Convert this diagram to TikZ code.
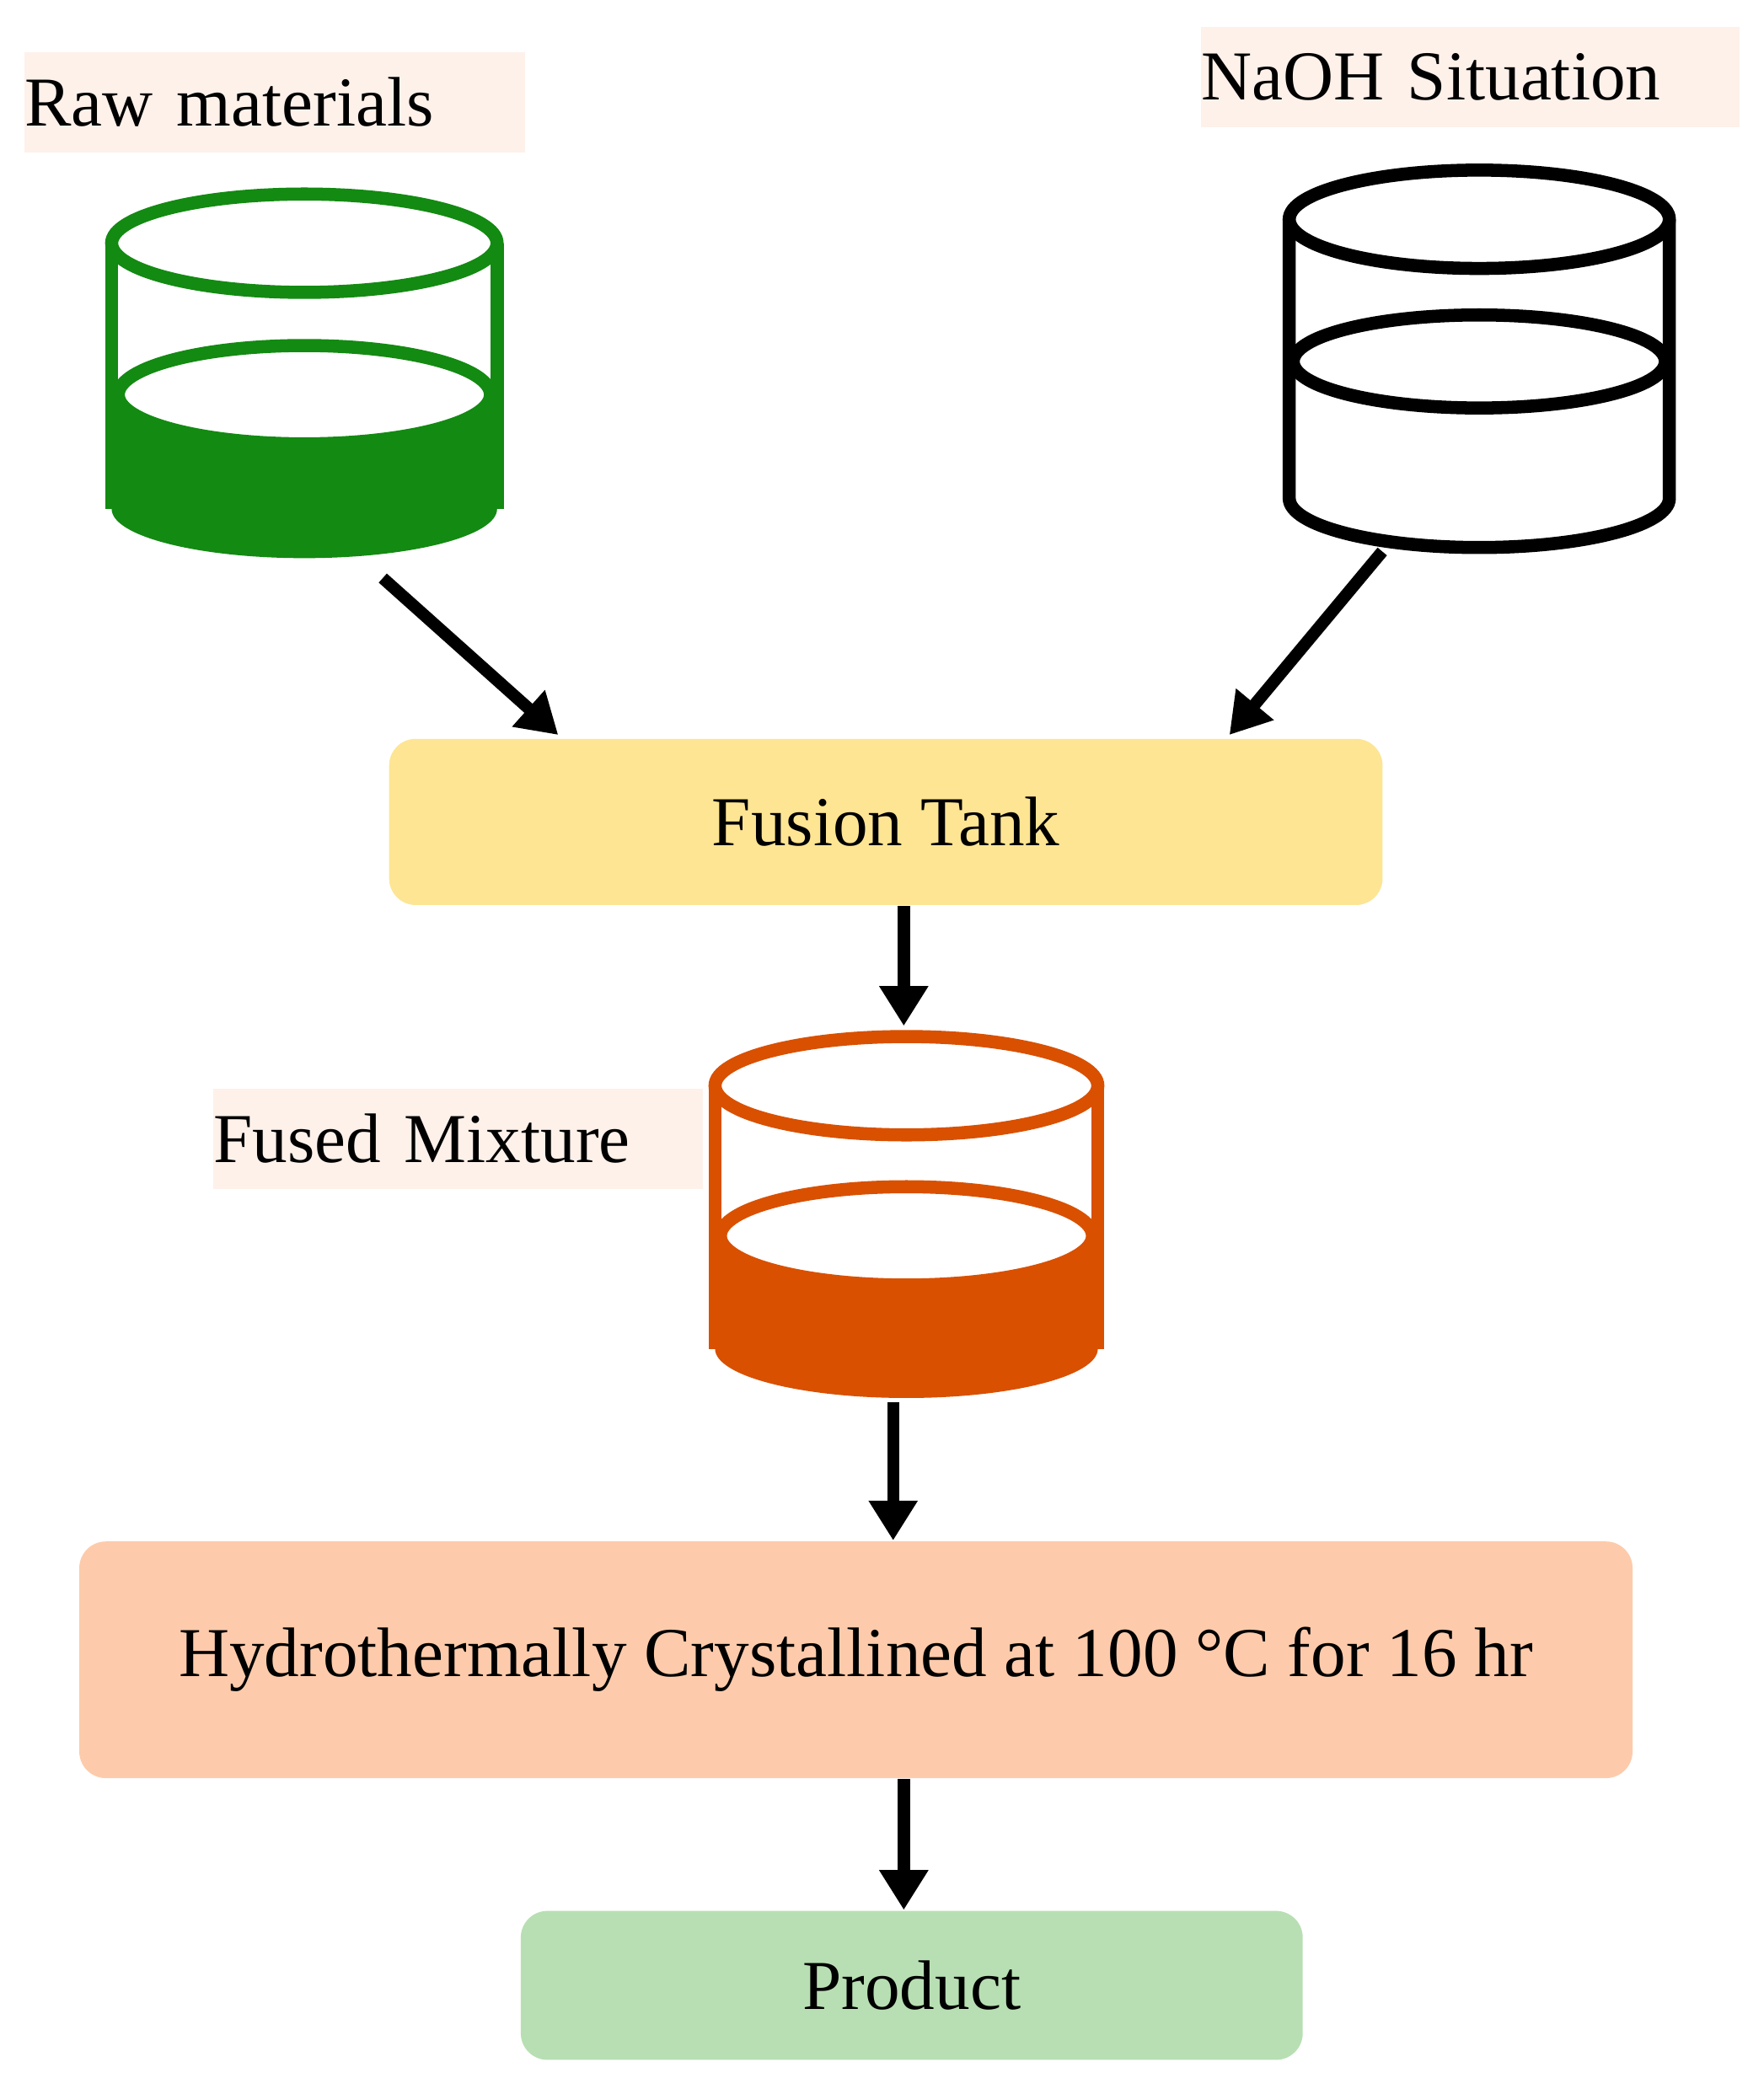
\documentclass[tikz,border=0pt]{standalone}
\usepackage{fontspec}
\setmainfont{Liberation Serif}
\usetikzlibrary{arrows.meta}
\definecolor{lbl}{HTML}{FDF1EA}
\definecolor{cgreen}{HTML}{138A12}
\definecolor{corange}{HTML}{D95000}
\definecolor{fus}{HTML}{FDE594}
\definecolor{hyd}{HTML}{FDCBAB}
\definecolor{prod}{HTML}{B8DFB3}
\tikzset{
 lab/.style={fill=lbl,inner sep=0pt,anchor=west,font=\fontsize{15}{18}\selectfont},
 box/.style={rounded corners=0.2cm,inner sep=0pt,font=\fontsize{15}{18}\selectfont},
 arr/.style={line width=2.6pt,-{Triangle[length=0.3cm,width=0.35cm]}},
 cyl/.style={line width=2.8pt},
}
\newcommand{\dn}[1]{\raisebox{-0.08cm}{#1}}
\begin{document}
\begin{tikzpicture}[x=0.01cm,y=-0.01cm]
\useasboundingbox (0,0) rectangle (1327,1572);
% labels
\node[lab,minimum height=0.75cm,text width=3.76cm] (rawl) at (18,77) {\dn{Raw materials}};
\node[lab,minimum height=0.76cm,text width=4.05cm] (naohl) at (903,58) {\dn{NaOH Situation}};
\node[lab,minimum height=0.75cm,text width=3.68cm] (fusl) at (160,857) {\dn{Fused Mixture}};
\begin{scope}[cyl]
% green cylinder
\fill[cgreen] (84,297) -- (84,383) arc[start angle=180,end angle=0,x radius=145,y radius=37] -- (374,297) -- cycle;
\draw[cgreen] (84,183) -- (84,383) (374,183) -- (374,383);
\draw[cgreen,fill=white] (229,183) ellipse[x radius=145,y radius=37];
\draw[cgreen,fill=white] (229,297) ellipse[x radius=140,y radius=37];
\coordinate (rawb) at (288,435);
% black cylinder
\draw (970,165) -- (970,375) arc[start angle=180,end angle=0,x radius=143,y radius=37] -- (1256,165);
\draw[fill=white] (1113,165) ellipse[x radius=143,y radius=37];
\draw[fill=white] (1113,272) ellipse[x radius=140,y radius=35];
\coordinate (naohb) at (1040,415);
% orange cylinder
\fill[corange] (538,930) -- (538,1015) arc[start angle=180,end angle=0,x radius=144,y radius=37] -- (826,930) -- cycle;
\draw[corange] (538,817) -- (538,1015) (826,817) -- (826,1015);
\draw[corange,fill=white] (682,817) ellipse[x radius=144,y radius=37];
\draw[corange,fill=white] (682,930) ellipse[x radius=140,y radius=37];
\coordinate (fusb) at (672,1055);
\coordinate (fust) at (680,772);
\end{scope}
% boxes
\node[box,fill=fus,minimum width=7.47cm,minimum height=1.25cm] (tank) at (666.5,618.5) {\dn{Fusion Tank}};
\node[box,fill=hyd,minimum width=11.68cm,minimum height=1.78cm] (hyd) at (644,1249) {\dn{Hydrothermally Crystallined at 100 °C for 16 hr}};
\node[box,fill=prod,minimum width=5.88cm,minimum height=1.12cm] (prod) at (686,1494) {\dn{Product}};
\coordinate (t1) at (420,553);
\coordinate (t2) at (925,553);
% arrows
\draw[arr] (rawb) -- (t1);
\draw[arr] (naohb) -- (t2);
\draw[arr] (tank.south -| fust) -- (fust);
\draw[arr] (fusb) -- (hyd.north -| fusb);
\draw[arr] (hyd.south -| fust) -- (prod.north -| fust);
\end{tikzpicture}
\end{document}
